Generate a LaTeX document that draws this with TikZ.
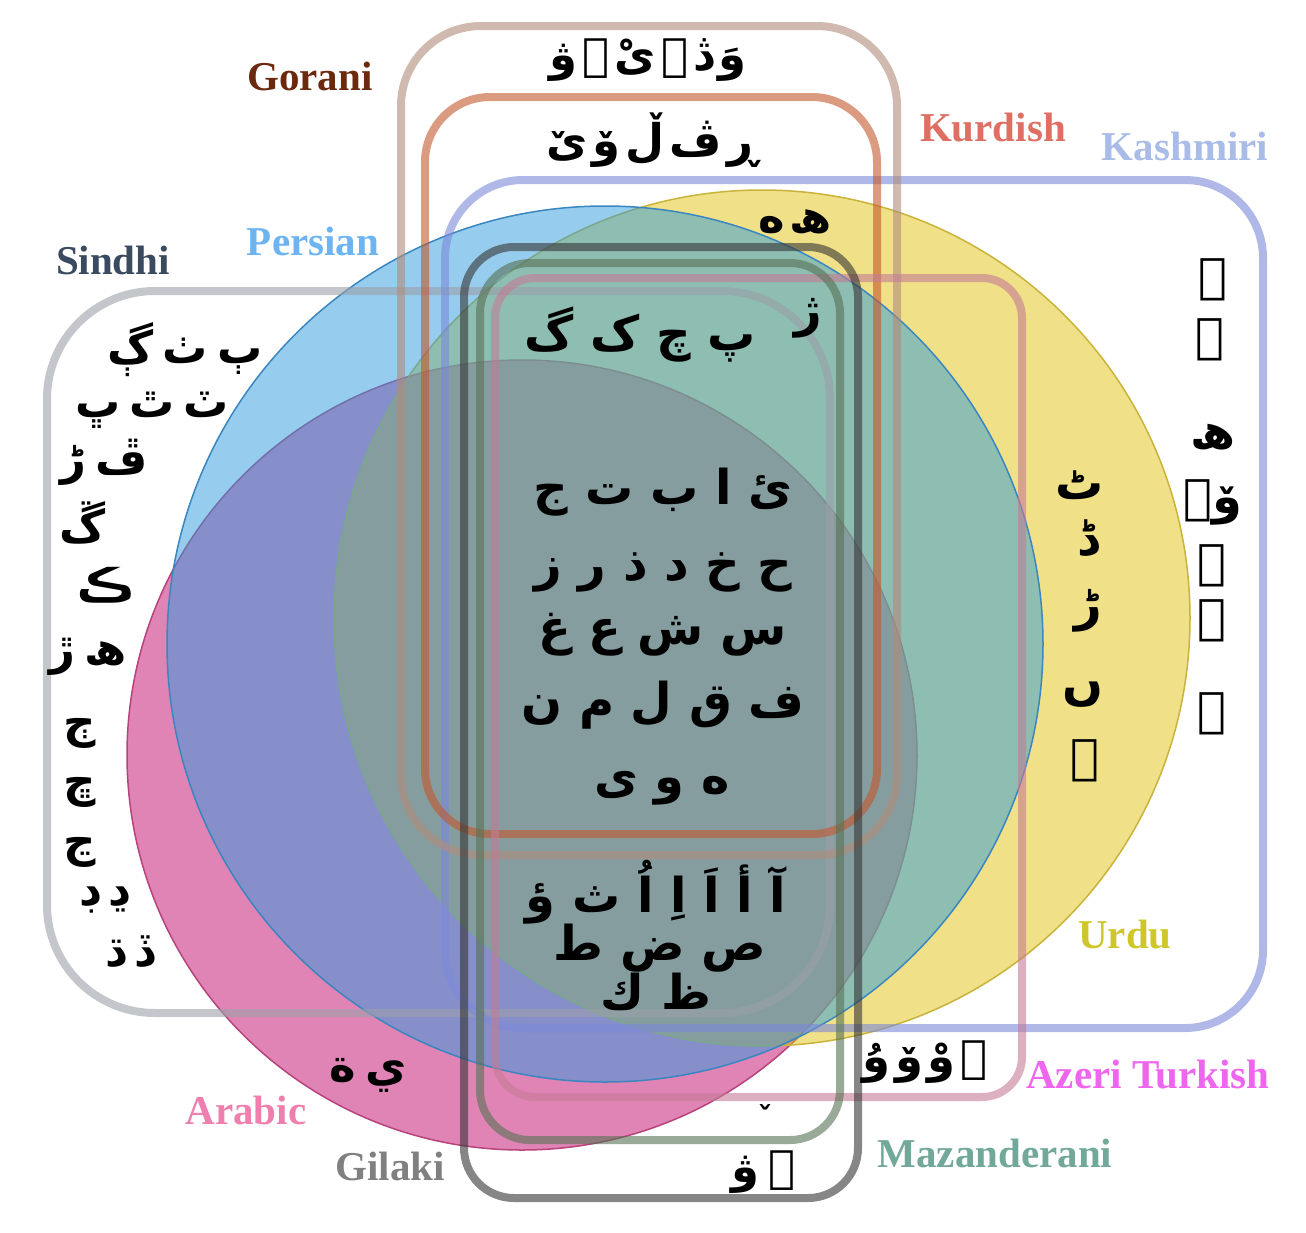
\documentclass[tikz,border=0pt]{standalone}
\usepackage{fontspec}
\setmainfont{Liberation Serif}
\newfontfamily\arabicfont[Script=Arabic]{DejaVu Sans}
\TeXXeTstate=1
\newcommand{\lettergap}{\hspace{5pt}}
\newcommand{\widegap}{\hspace{9pt}}

\definecolor{persianfill}{HTML}{2D9BDD}
\definecolor{urdufill}{HTML}{E1C10F}
\definecolor{arabicfill}{HTML}{C1096D}
\definecolor{persianline}{HTML}{3A86C0}
\definecolor{urduline}{HTML}{C9B33A}
\definecolor{arabicline}{HTML}{B8437A}
\definecolor{goranibox}{HTML}{B18C7B}
\definecolor{kurdishbox}{HTML}{C3582B}
\definecolor{kashmiribox}{HTML}{7B89D9}
\definecolor{sindhibox}{HTML}{9BA0A8}
\definecolor{gilakibox}{HTML}{363636}
\definecolor{mazanbox}{HTML}{577153}
\definecolor{azeribox}{HTML}{C57B96}
\definecolor{goranitext}{HTML}{6B2A0E}
\definecolor{kurdishtext}{HTML}{DE6F62}
\definecolor{kashmiritext}{HTML}{A9BCE8}
\definecolor{persiantext}{HTML}{6DB5F2}
\definecolor{sindhitext}{HTML}{3B4B5F}
\definecolor{urdutext}{HTML}{CFC62B}
\definecolor{azeritext}{HTML}{EE66EE}
\definecolor{arabictext}{HTML}{EE7FAE}
\definecolor{gilakitext}{HTML}{808080}
\definecolor{mazantext}{HTML}{72A89A}

\begin{document}
\begin{tikzpicture}[x=1pt,y=-1pt,
    disc/.style={line width=1.5pt, fill opacity=0.5},
    langbox/.style={line width=8pt, draw opacity=0.6, rounded corners=#1},
    lang/.style={font=\fontsize{41}{41}\selectfont\bfseries, inner sep=0pt},
    glyph/.style={font=\arabicfont\fontsize{48}{48}\selectfont\bfseries, inner sep=0pt},
    tightglyph/.style={font=\arabicfont\fontsize{45}{45}\selectfont\bfseries, inner sep=0pt}]
   \useasboundingbox (0,0) rectangle (1306,1232);

   \draw[disc, draw=arabicline, fill=arabicfill] (522,755) circle[radius=395pt];
   \draw[disc, draw=urduline, fill=urdufill] (762,618) circle[radius=428pt];
   \draw[disc, draw=persianline, fill=persianfill] (605,644) circle[radius=438pt];

   \draw[langbox=108pt, sindhibox] (47,291) rectangle (830,1013);
   \draw[langbox=78pt, kashmiribox] (445,180) rectangle (1263,1028);
   \draw[langbox=80pt, goranibox] (401,26) rectangle (897,855);
   \draw[langbox=65pt, kurdishbox] (425,97) rectangle (877,834);
   \draw[langbox=40pt, azeribox] (495,278) rectangle (1022,1097);
   \draw[langbox=50pt, mazanbox] (480,263) rectangle (840,1140);
   \draw[langbox=50pt, gilakibox] (464,247) rectangle (858,1198);

   \node[lang, goranitext] (gorani) at (310,76) {Gorani};
   \node[lang, kurdishtext] (kurdish) at (993,128) {Kurdish};
   \node[lang, kashmiritext] (kashmiri) at (1185,146) {Kashmiri};
   \node[lang, persiantext] (persian) at (313,241) {Persian};
   \node[lang, sindhitext] (sindhi) at (113,260) {Sindhi};
   \node[lang, urdutext] (urdu) at (1125,935) {Urdu};
   \node[lang, azeritext] (azeri) at (1148,1075) {Azeri Turkish};
   \node[lang, arabictext] (arabic) at (246,1110) {Arabic};
   \node[lang, gilakitext] (gilaki) at (390,1166) {Gilaki};
   \node[lang, mazantext] (mazanderani) at (995,1153) {Mazanderani};

   \node[tightglyph] (gor1) at (648,60) {\beginR وَ\lettergap ڎ\lettergap ۉ\lettergap ىْ\lettergap ؽ\lettergap ۋ\endR};
   \node[tightglyph] (kur1) at (652,140) {\beginR ڕ\lettergap ڤ\lettergap ڵ\lettergap ۆ\lettergap ێ\endR};
   \node[tightglyph] (kur2) at (795,222) {\beginR ھ\lettergap ە\endR};

   \node[glyph] (zhe) at (808,318) {ژ};
   \node[glyph] (mid1) at (640,335) {\beginR پ چ ک گ\endR};
   \node[glyph] (mid2) at (663,492) {\beginR ئ ا ب ت ج\endR};
   \node[glyph] (mid3) at (663,572) {\beginR ح خ د ذ ر ز\endR};
   \node[glyph] (mid4) at (663,635) {\beginR س ش ع غ\endR};
   \node[glyph] (mid5) at (663,705) {\beginR ف ق ل م ن\endR};
   \node[glyph] (mid6) at (662,788) {\beginR ه و ی\endR};
   \node[glyph] (low1) at (656,892) {\beginR آ أ اَ اِ اُ ث ؤ\endR};
   \node[glyph] (low2) at (660,948) {\beginR ص ض ط\endR};
   \node[glyph] (low3) at (656,992) {\beginR ظ ك\endR};

   \node[tightglyph] (snd1) at (185,350) {\beginR ٻ\widegap ٺ\widegap ڳ\endR};
   \node[tightglyph] (snd2) at (152,410) {\beginR ٽ\widegap ٿ\widegap ڀ\endR};
   \node[tightglyph] (snd3) at (104,462) {\beginR ڦ\widegap ڑ\endR};
   \node[tightglyph] (snd4) at (83,523) {ڱ};
   \node[tightglyph] (snd5) at (106,585) {ڪ};
   \node[tightglyph] (snd6) at (88,657) {\beginR ھ\widegap ڙ\endR};
   \node[tightglyph] (snd7) at (80,733) {ڄ};
   \node[tightglyph] (snd8) at (80,792) {ڇ};
   \node[tightglyph] (snd9) at (80,852) {ڃ};
   \node[tightglyph] (snd10) at (104,900) {\beginR ڍ\widegap ڊ\endR};
   \node[tightglyph] (snd11) at (130,952) {\beginR ڏ\widegap ڌ\endR};

   \node[glyph] (urd1) at (1080,485) {ٹ};
   \node[glyph] (urd2) at (1088,538) {ڈ};
   \node[glyph] (urd3) at (1088,611) {ڑ};
   \node[glyph] (urd4) at (1083,695) {ں};
   \node[glyph] (urd5) at (1085,761) {ے};

   \node[glyph] (ksh1) at (1213,280) {ؠ};
   \node[glyph] (ksh2) at (1210,340) {ۄ};
   \node[glyph] (ksh3) at (1213,437) {ھ};
   \node[glyph] (ksh4) at (1213,502) {ۆٟ};
   \node[glyph] (ksh5) at (1212,566) {ے};
   \node[glyph] (ksh6) at (1212,621) {ٲ};
   \node[glyph] (ksh7) at (1212,714) {ٳ};

   \node[tightglyph] (arb1) at (368,1075) {\beginR ي\widegap ة\endR};
   \node[tightglyph] (aze1) at (925,1062) {\beginR ؽ\lettergap وْ\lettergap ۆ\lettergap ۇ\endR};
   \node[font=\arabicfont\fontsize{30}{30}\selectfont\bfseries, inner sep=0pt] (maz1) at (765,1116) {ˇ};
   \node[tightglyph] (gil1) at (763,1172) {\beginR ۊ\widegap ۋ\endR};
 \end{tikzpicture}
\end{document}
